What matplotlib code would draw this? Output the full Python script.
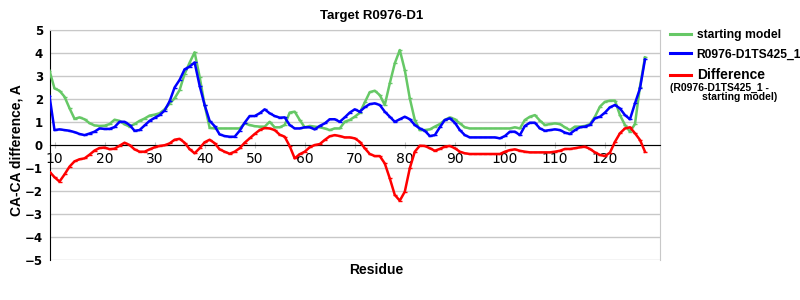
import matplotlib.pyplot as plt
from matplotlib.lines import Line2D

residues = list(range(9, 129))

starting_model = [
    3.23, 2.46, 2.36, 2.10, 1.60, 1.14, 1.20, 1.12, 0.95, 0.85,
    0.83, 0.84, 0.91, 1.10, 1.05, 0.90, 0.80, 0.91, 1.05, 1.15,
    1.28, 1.32, 1.38, 1.55, 1.80, 2.03, 2.39, 3.09, 3.58, 4.03,
    2.97, 1.74, 0.75, 0.72, 0.72, 0.72, 0.72, 0.72, 0.72, 0.94,
    0.87, 0.82, 0.80, 0.80, 1.01, 0.77, 0.77, 0.87, 1.41, 1.45,
    1.09, 0.77, 0.83, 0.80, 0.77, 0.72, 0.65, 0.72, 0.72, 1.01,
    1.09, 1.23, 1.40, 1.85, 2.30, 2.36, 2.17, 1.74, 2.68, 3.55,
    4.13, 3.26, 2.03, 1.09, 0.65, 0.65, 0.68, 0.80, 0.91, 1.09,
    1.20, 1.12, 0.94, 0.77, 0.72, 0.72, 0.72, 0.72, 0.72, 0.72,
    0.72, 0.72, 0.72, 0.77, 0.72, 1.09, 1.23, 1.30, 1.06, 0.87,
    0.91, 0.94, 0.91, 0.77, 0.65, 0.80, 0.80, 0.83, 0.91, 1.23,
    1.67, 1.88, 1.93, 1.93, 1.30, 0.87, 0.58, 0.91, 2.54, 3.81,
]

ts425 = [
    2.13, 0.65, 0.68, 0.65, 0.62, 0.56, 0.48, 0.43, 0.50, 0.58,
    0.72, 0.70, 0.70, 0.78, 1.01, 1.01, 0.87, 0.62, 0.65, 0.85,
    1.05, 1.18, 1.30, 1.50, 1.90, 2.50, 2.83, 3.29, 3.41, 3.59,
    2.58, 1.74, 1.05, 0.82, 0.46, 0.39, 0.36, 0.36, 0.62, 0.97,
    1.26, 1.26, 1.38, 1.55, 1.38, 1.26, 1.19, 1.20, 0.87, 0.72,
    0.72, 0.77, 0.77, 0.68, 0.83, 0.94, 1.12, 1.12, 1.01, 1.20,
    1.41, 1.55, 1.45, 1.64, 1.78, 1.81, 1.74, 1.45, 1.23, 1.01,
    1.12, 1.23, 1.12, 0.87, 0.72, 0.62, 0.39, 0.43, 0.77, 1.09,
    1.16, 0.97, 0.65, 0.43, 0.33, 0.33, 0.33, 0.33, 0.33, 0.33,
    0.29, 0.39, 0.58, 0.58, 0.43, 0.83, 0.97, 0.97, 0.72, 0.62,
    0.65, 0.68, 0.65, 0.54, 0.48, 0.65, 0.77, 0.80, 0.87, 1.16,
    1.23, 1.41, 1.64, 1.74, 1.59, 1.30, 1.12, 1.81, 2.46, 3.72,
]

difference = [
    -1.16, -1.40, -1.59, -1.28, -0.94, -0.71, -0.62, -0.58, -0.42, -0.24,
    -0.13, -0.11, -0.18, -0.16, -0.03, 0.10, 0.00, -0.19, -0.29, -0.29,
    -0.19, -0.10, -0.04, -0.01, 0.07, 0.23, 0.27, 0.10, -0.18, -0.36,
    -0.14, 0.12, 0.23, 0.08, -0.19, -0.29, -0.38, -0.29, -0.14, 0.10,
    0.29, 0.48, 0.65, 0.74, 0.72, 0.65, 0.45, 0.36, -0.05, -0.58,
    -0.40, -0.29, -0.10, 0.00, 0.04, 0.22, 0.38, 0.43, 0.39, 0.33,
    0.33, 0.29, 0.14, -0.14, -0.39, -0.48, -0.48, -0.80, -1.45, -2.17,
    -2.42, -2.03, -1.01, -0.29, -0.03, -0.04, -0.14, -0.25, -0.17, -0.07,
    -0.04, -0.14, -0.29, -0.36, -0.39, -0.39, -0.39, -0.39, -0.39, -0.39,
    -0.39, -0.29, -0.22, -0.19, -0.25, -0.29, -0.32, -0.32, -0.32, -0.32,
    -0.32, -0.29, -0.25, -0.17, -0.17, -0.14, -0.10, -0.07, -0.17, -0.32,
    -0.43, -0.48, -0.33, 0.14, 0.51, 0.72, 0.77, 0.51, 0.22, -0.29,
]

x_ticks = [10, 20, 30, 40, 50, 60, 70, 80, 90, 100, 110, 120]
y_ticks = [-5, -4, -3, -2, -1, 0, 1, 2, 3, 4, 5]

green = '#66c866'
blue = '#0000ff'
red = '#ff0000'

fig = plt.figure(figsize=(8, 3), dpi=100)
ax = fig.add_axes([0.0625, 0.1333, 0.7625, 0.7667])

style = dict(linewidth=1.8, marker='_', markersize=3, markeredgewidth=1)
ax.plot(residues, starting_model, color=green, **style, zorder=3)
ax.plot(residues, ts425, color=blue, **style, zorder=4)
ax.plot(residues, difference, color=red, **style, zorder=5)

ax.set_xlim(9.1, 131)
ax.set_ylim(-5, 5)
ax.set_yticks(y_ticks)
ax.set_yticklabels([str(v).replace('-', '\u2212') for v in y_ticks])
ax.set_xticks(x_ticks)
ax.set_xticklabels([str(v) for v in x_ticks])
for t in ax.get_xticklabels() + ax.get_yticklabels():
    t.set_fontfamily('DejaVu Sans')
    t.set_fontweight('bold')
    t.set_fontsize(8.5)

ax.grid(axis='y', color='#c8c8c8', linewidth=1)
ax.set_axisbelow(True)
ax.spines['bottom'].set_position(('data', 0))
ax.spines['bottom'].set_color('black')
ax.spines['left'].set_color('black')
ax.spines['top'].set_color('#c8c8c8')
ax.spines['right'].set_color('#c8c8c8')
ax.tick_params(axis='y', length=0, pad=5)
ax.tick_params(axis='x', direction='inout', length=4, color='#c0c0c0', pad=3)

fig.text(0.464, 0.945, 'Target R0976-D1', ha='center', va='center',
         fontfamily='Liberation Sans', fontweight='bold', fontsize=9.5)
fig.text(0.47, 0.1, 'Residue', ha='center', va='center',
         fontfamily='Liberation Sans', fontweight='bold', fontsize=10)
fig.text(0.021, 0.5, 'CA-CA difference, A', ha='center', va='center', rotation=90,
         fontfamily='Liberation Sans', fontweight='bold', fontsize=10)

handles = [
    Line2D([], [], color=green, linewidth=2.2),
    Line2D([], [], color=blue, linewidth=2.2),
    Line2D([], [], color=red, linewidth=2.2),
]
leg = fig.legend(handles, ['starting model', 'R0976-D1TS425_1', 'Difference'],
                 loc='upper left', bbox_to_anchor=(0.824, 0.94), frameon=False,
                 handlelength=1.7, handletextpad=0.5, labelspacing=0.62,
                 prop={'family': 'Liberation Sans', 'weight': 'bold', 'size': 8.7})
leg.get_texts()[2].set_fontsize(10)
fig.text(0.8375, 0.707, '(R0976-D1TS425_1 -', ha='left', va='center',
         fontfamily='Liberation Sans', fontweight='bold', fontsize=7.5)
fig.text(0.924, 0.677, 'starting model)', ha='center', va='center',
         fontfamily='Liberation Sans', fontweight='bold', fontsize=7.5)

plt.savefig('out.png', dpi=100)
